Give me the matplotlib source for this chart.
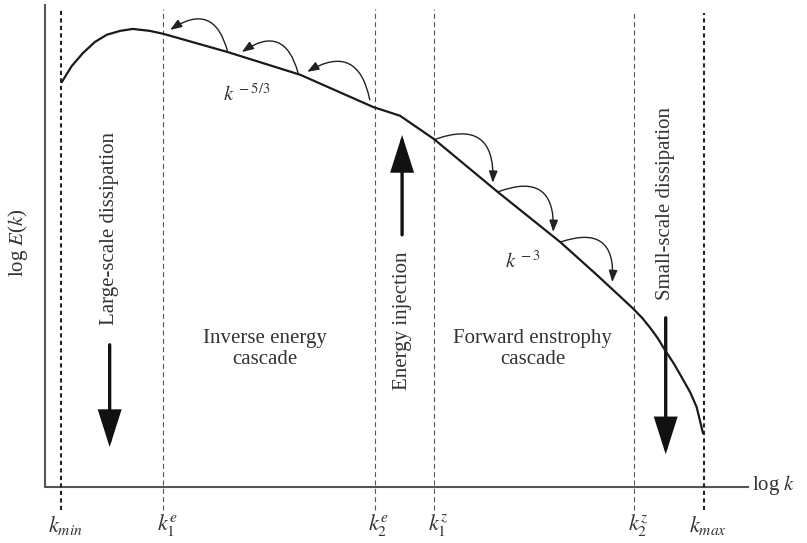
import matplotlib
matplotlib.use('Agg')
import matplotlib.pyplot as plt
from matplotlib.patches import FancyArrowPatch

plt.rcParams['font.family'] = ['Liberation Serif', 'DejaVu Serif']
plt.rcParams['mathtext.fontset'] = 'stix'

# ----------------------------------------------------------------------
# Data (log k, log E)
spec_logk = [0.24, 0.38, 0.54, 0.71, 0.88, 1.07, 1.25, 1.49, 1.68, 2.60, 3.63,
             4.67, 5.05, 5.53, 6.44, 7.33, 7.85, 8.36, 8.50, 8.61, 8.72, 8.82,
             8.95, 9.08, 9.18, 9.27, 9.36]
spec_logE = [8.40, 8.73, 9.00, 9.23, 9.38, 9.46, 9.50, 9.46, 9.40, 9.02, 8.55,
             7.88, 7.70, 7.22, 6.12, 5.08, 4.40, 3.71, 3.50, 3.30, 3.08, 2.84,
             2.55, 2.22, 1.96, 1.66, 1.12]

# Characteristic wavenumbers
k_names = ['$k_{min}$', '$k_1^e$', '$k_2^e$', '$k_1^z$', '$k_2^z$', '$k_{max}$']
k_pos = [0.23, 1.68, 4.69, 5.53, 8.38, 9.37]
k_top = [9.92, 9.92, 9.92, 9.92, 9.83, 9.83]
k_bold = [True, False, False, False, False, True]

# Cascade arrows (start on the spectrum -> arrow tip)
inv_start = [(2.60, 9.02), (3.60, 8.59), (4.62, 8.03)]
inv_tip = [(1.78, 9.48), (2.80, 9.02), (3.73, 8.61)]
fwd_start = [(5.53, 7.20), (6.44, 6.12), (7.33, 5.08)]
fwd_tip = [(6.37, 6.31), (7.23, 5.29), (8.07, 4.25)]

# Big vertical arrows: x, tail y, tip y
big_x = [0.92, 5.08, 8.83]
big_tail = [2.95, 5.23, 3.51]
big_tip = [0.83, 7.30, 0.68]

# ----------------------------------------------------------------------
fig = plt.figure(figsize=(8.07, 5.43), dpi=100)
ax = fig.add_axes([0, 0, 1, 1])
ax.set_xlim(-0.64, 10.84)
ax.set_ylim(-1.16, 10.10)
ax.set_axis_off()

txt_col = '#333333'

# Axes lines
ax.plot([0, 0, 10.0], [10.0, 0, 0], color='#555555', lw=1.5,
        solid_joinstyle='miter')

# Vertical reference lines + labels
for name, x, top, bold in zip(k_names, k_pos, k_top, k_bold):
    if bold:
        ax.plot([x, x], [-0.48, top], color='#222222', lw=1.5,
                dashes=(2.0, 1.6))
    else:
        ax.plot([x, x], [-0.48, top], color='#555555', lw=0.8,
                dashes=(4.5, 3.0))
    ax.text(x + 0.06, -0.79, name, ha='center', va='center', fontsize=16,
            color=txt_col)

# Spectrum
ax.plot(spec_logk, spec_logE, color='#1a1a1a', lw=1.6,
        solid_joinstyle='round')

# Small cascade arrows
for (s, t) in zip(inv_start, inv_tip):
    ax.add_patch(FancyArrowPatch(s, t, connectionstyle='arc3,rad=0.7',
                 arrowstyle='-|>,head_length=7,head_width=2.6',
                 mutation_scale=1, lw=1.0, color='#222222',
                 shrinkA=0, shrinkB=0))
for (s, t) in zip(fwd_start, fwd_tip):
    ax.add_patch(FancyArrowPatch(s, t, connectionstyle='arc3,rad=-0.75',
                 arrowstyle='-|>,head_length=7,head_width=2.6',
                 mutation_scale=1, lw=1.0, color='#222222',
                 shrinkA=0, shrinkB=0))

# Big arrows
for x, y0, y1 in zip(big_x, big_tail, big_tip):
    ax.add_patch(FancyArrowPatch((x, y0), (x, y1),
                 arrowstyle='-|>,head_length=22,head_width=7',
                 mutation_scale=1, lw=2.4, color='#111111',
                 shrinkA=0, shrinkB=0, joinstyle='miter'))

# Labels
ax.text(-0.38, 5.06, 'log $E$($k$)', rotation=90, ha='center', va='center',
        fontsize=15, color=txt_col)
ax.text(10.06, 0.04, 'log $k$', ha='left', va='center', fontsize=15,
        color=txt_col)
ax.text(0.92, 5.37, 'Large-scale dissipation', rotation=90, ha='center',
        va='center', fontsize=15, color=txt_col)
ax.text(5.08, 3.44, 'Energy injection', rotation=90, ha='center',
        va='center', fontsize=15, color=txt_col)
ax.text(8.82, 5.89, 'Small-scale dissipation', rotation=90, ha='center',
        va='center', fontsize=15, color=txt_col)
ax.text(3.13, 2.86, 'Inverse energy\ncascade', ha='center', va='center',
        fontsize=15, color=txt_col, linespacing=1.1)
ax.text(6.94, 2.86, 'Forward enstrophy\ncascade', ha='center', va='center',
        fontsize=15, color=txt_col, linespacing=1.1)
ax.text(2.87, 8.13, '$k^{\\,-5/3}$', ha='center', va='center', fontsize=15,
        color=txt_col)
ax.text(6.80, 4.67, '$k^{\\,-3}$', ha='center', va='center', fontsize=15,
        color=txt_col)

fig.savefig('out.png', dpi=100)
